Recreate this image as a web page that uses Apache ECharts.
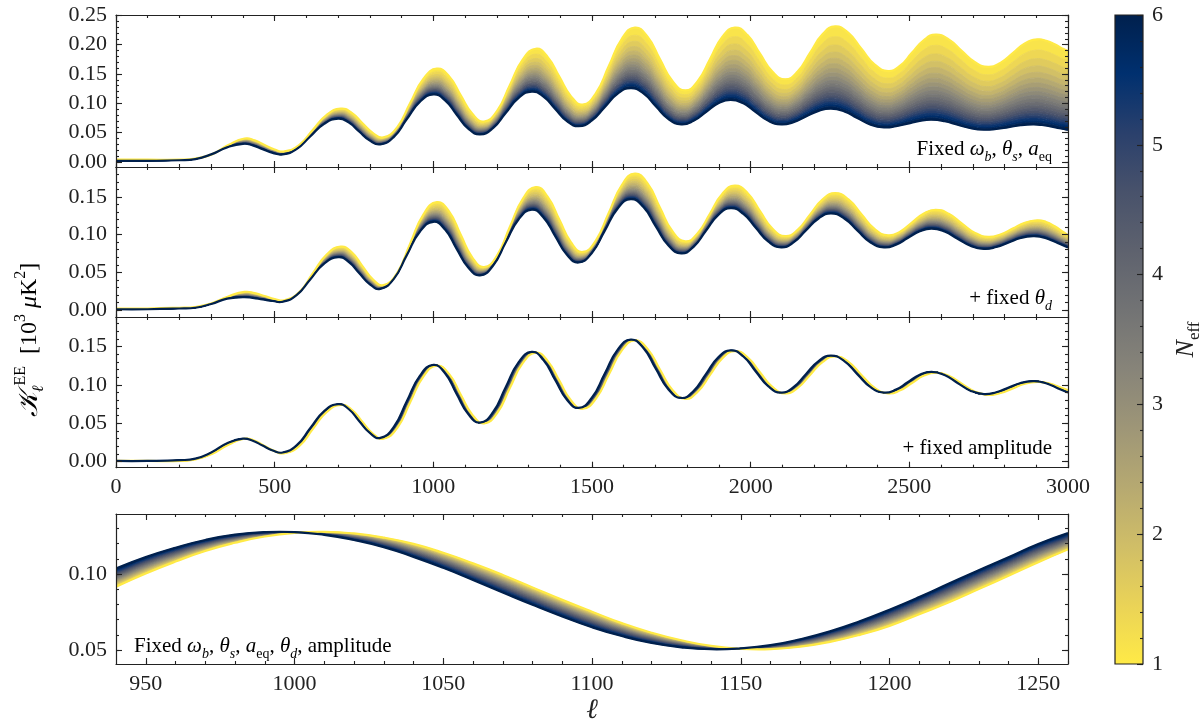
<!DOCTYPE html>
<html>
<head>
<meta charset="utf-8">
<title>EE spectra vs N_eff</title>
<script src="https://cdn.jsdelivr.net/npm/echarts@6/dist/echarts.min.js"></script>
<style>
  html, body { margin: 0; padding: 0; background: #fff; }
  #chart { width: 1203px; height: 726px; }
</style>
</head>
<body>
<div id="chart"></div>
<script>
// multipoles where the Neff = 6 curves were read (peaks, troughs and the quarter points between them)
const ell = [0, 100, 200, 250, 300, 350, 400,
  431, 462, 494, 525, 569, 612, 656, 700, 733, 766, 800, 833, 875, 916, 958, 1000,
  1037, 1073, 1110, 1147, 1188, 1228, 1269, 1310, 1347, 1384, 1421, 1458, 1499, 1540, 1581, 1622,
  1662, 1701, 1741, 1781, 1820, 1859, 1898, 1937, 1977, 2016, 2056, 2096, 2135, 2174, 2214, 2253,
  2295, 2336, 2378, 2420, 2458, 2495, 2533, 2570, 2611, 2652, 2694, 2735, 2774, 2813, 2851, 2890,
  2918, 2945, 2973, 3000];
// the same features on the Neff = 1 curves, which sit slightly later in multipole
const ellLate = [0, 100, 200, 250, 302, 354, 405,
  437, 468, 500, 531, 577, 620, 664, 708, 743, 776, 810, 843, 886, 927, 969, 1011,
  1050, 1086, 1123, 1160, 1201, 1241, 1282, 1323, 1360, 1397, 1434, 1471, 1512, 1553, 1594, 1635,
  1675, 1714, 1754, 1794, 1833, 1872, 1911, 1950, 1990, 2029, 2069, 2109, 2148, 2187, 2227, 2266,
  2308, 2349, 2391, 2433, 2471, 2508, 2546, 2583, 2624, 2665, 2707, 2748, 2787, 2826, 2864, 2903,
  2931, 2958, 2986, 3000];

// panel 1: fixed omega_b, theta_s, a_eq
const p1Blue = [0.002, 0.002, 0.003, 0.005, 0.013, 0.025, 0.031,
  0.0284, 0.022, 0.0156, 0.013, 0.0219, 0.0435, 0.0651, 0.074, 0.0676, 0.052, 0.0364, 0.030, 0.0424, 0.0725, 0.1026, 0.115,
  0.1051, 0.081, 0.0569, 0.047, 0.0577, 0.0835, 0.1093, 0.120, 0.1114, 0.0905, 0.0696, 0.061, 0.0705, 0.0935, 0.1165, 0.126,
  0.1169, 0.095, 0.0731, 0.064, 0.0701, 0.085, 0.0999, 0.106, 0.0999, 0.085, 0.0701, 0.064, 0.0679, 0.0775, 0.0871, 0.091,
  0.0863, 0.075, 0.0637, 0.059, 0.0609, 0.0655, 0.0701, 0.072, 0.0695, 0.0635, 0.0575, 0.055, 0.0563, 0.0595, 0.0627, 0.064,
  0.0631, 0.0608, 0.0576, 0.0547];
const p1Yellow = [0.004, 0.004, 0.004, 0.006, 0.013, 0.029, 0.040,
  0.0368, 0.029, 0.0212, 0.018, 0.0287, 0.0545, 0.0803, 0.091, 0.0838, 0.0665, 0.0492, 0.042, 0.0591, 0.1005, 0.1419, 0.159,
  0.1459, 0.114, 0.0821, 0.069, 0.0871, 0.131, 0.1749, 0.193, 0.1791, 0.1455, 0.1119, 0.098, 0.1171, 0.1635, 0.2099, 0.229,
  0.2134, 0.1755, 0.1376, 0.122, 0.1376, 0.1755, 0.2134, 0.229, 0.2162, 0.185, 0.1538, 0.141, 0.1541, 0.186, 0.2179, 0.231,
  0.2199, 0.193, 0.1661, 0.155, 0.1641, 0.186, 0.2079, 0.217, 0.209, 0.1895, 0.170, 0.162, 0.1689, 0.1855, 0.2021, 0.209,
  0.2066, 0.2005, 0.1925, 0.189];

// panel 2: + fixed theta_d
const p2Blue = [0.001, 0.001, 0.002, 0.003, 0.008, 0.015, 0.017,
  0.0161, 0.014, 0.0119, 0.011, 0.0196, 0.0405, 0.0614, 0.070, 0.0639, 0.049, 0.0341, 0.028, 0.041, 0.0725, 0.104, 0.117,
  0.1066, 0.0815, 0.0564, 0.046, 0.0587, 0.0895, 0.1203, 0.133, 0.1228, 0.098, 0.0732, 0.063, 0.0753, 0.105, 0.1347, 0.147,
  0.1365, 0.111, 0.0855, 0.075, 0.0838, 0.105, 0.1262, 0.135, 0.1274, 0.109, 0.0906, 0.083, 0.0896, 0.1055, 0.1214, 0.128,
  0.1214, 0.1055, 0.0896, 0.083, 0.0867, 0.0955, 0.1044, 0.108, 0.1041, 0.0945, 0.0849, 0.081, 0.0835, 0.0895, 0.0955, 0.098,
  0.0966, 0.0929, 0.0878, 0.083];
const p2Yellow = [0.002, 0.002, 0.003, 0.004, 0.009, 0.018, 0.024,
  0.0224, 0.0185, 0.0146, 0.013, 0.0234, 0.0485, 0.0736, 0.084, 0.0766, 0.0585, 0.0404, 0.033, 0.0491, 0.088, 0.1269, 0.143,
  0.1304, 0.100, 0.0696, 0.057, 0.0725, 0.110, 0.1475, 0.163, 0.1504, 0.120, 0.0896, 0.077, 0.0922, 0.129, 0.1658, 0.181,
  0.1679, 0.136, 0.1041, 0.091, 0.1018, 0.128, 0.1542, 0.165, 0.1552, 0.1315, 0.1078, 0.098, 0.1063, 0.1265, 0.1467, 0.155,
  0.1468, 0.127, 0.1072, 0.099, 0.104, 0.116, 0.128, 0.133, 0.1277, 0.115, 0.1023, 0.097, 0.1002, 0.108, 0.1158, 0.119,
  0.1168, 0.111, 0.1031, 0.099];

// panel 3: + fixed amplitude
const p3Blue = [0.001, 0.001, 0.002, 0.004, 0.012, 0.024, 0.030,
  0.0274, 0.021, 0.0146, 0.012, 0.0212, 0.0435, 0.0658, 0.075, 0.0686, 0.053, 0.0374, 0.031, 0.0449, 0.0785, 0.1121, 0.126,
  0.115, 0.0885, 0.062, 0.051, 0.0644, 0.097, 0.1296, 0.143, 0.1323, 0.1065, 0.0807, 0.070, 0.083, 0.1145, 0.146, 0.159,
  0.1479, 0.121, 0.0941, 0.083, 0.0921, 0.114, 0.1359, 0.145, 0.137, 0.1175, 0.098, 0.090, 0.097, 0.114, 0.131, 0.138,
  0.131, 0.114, 0.097, 0.090, 0.0939, 0.1035, 0.1131, 0.117, 0.1128, 0.1025, 0.0922, 0.088, 0.0905, 0.0965, 0.1025, 0.105,
  0.1036, 0.0999, 0.0948, 0.090];
const p3Yellow = [0.001, 0.001, 0.001, 0.003, 0.010, 0.022, 0.030,
  0.0272, 0.0205, 0.0138, 0.011, 0.0202, 0.0425, 0.0648, 0.074, 0.0676, 0.052, 0.0364, 0.030, 0.0439, 0.0775, 0.1111, 0.125,
  0.114, 0.0875, 0.061, 0.050, 0.0634, 0.096, 0.1286, 0.142, 0.1313, 0.1055, 0.0797, 0.069, 0.082, 0.1135, 0.145, 0.158,
  0.1469, 0.120, 0.0931, 0.082, 0.0911, 0.113, 0.1349, 0.144, 0.136, 0.1165, 0.097, 0.089, 0.096, 0.113, 0.130, 0.137,
  0.130, 0.113, 0.096, 0.089, 0.0929, 0.1025, 0.1121, 0.116, 0.1118, 0.1015, 0.0912, 0.087, 0.0895, 0.0955, 0.1015, 0.104,
  0.1028, 0.0996, 0.0952, 0.093];

// panel 4: zoom on the second peak, everything fixed
const zoomEll = [940, 950, 960, 970, 980, 990, 1000, 1010, 1020, 1030, 1040, 1050, 1060, 1070, 1080, 1090, 1100, 1110, 1120,
  1130, 1140, 1150, 1160, 1170, 1180, 1190, 1200, 1210, 1220, 1230, 1240, 1250, 1260];
const p4Blue = [0.1036, 0.1111, 0.1173, 0.1224, 0.1259, 0.1276, 0.1276, 0.1258, 0.1224, 0.1177, 0.1113, 0.1041, 0.0961, 0.0879,
  0.0798, 0.0721, 0.0650, 0.0592, 0.0547, 0.0518, 0.0505, 0.0511, 0.0532, 0.0571, 0.0623, 0.0689, 0.0765, 0.0848, 0.0937, 0.1025,
  0.1110, 0.1197, 0.1269];
const p4Yellow = [0.0917, 0.1004, 0.1082, 0.1152, 0.1206, 0.1247, 0.1271, 0.1278, 0.1267, 0.1240, 0.1198, 0.1140, 0.1070, 0.0994,
  0.0912, 0.0830, 0.0752, 0.0677, 0.0614, 0.0564, 0.0527, 0.0508, 0.0506, 0.0522, 0.0554, 0.0600, 0.0659, 0.0736, 0.0814, 0.0901,
  0.0989, 0.1078, 0.1162];

// Neff of each drawn curve, and where it sits between the Neff=6 edge (0) and the Neff=1 edge (1)
const neffSteps = [1, 1.25, 1.5, 1.75, 2, 2.25, 2.5, 2.75, 3, 3.25, 3.5, 3.75, 4, 4.25, 4.5, 4.75, 5, 5.25, 5.5, 5.75, 6];
const ampSpread = [1, 0.875, 0.774, 0.688, 0.613, 0.547, 0.489, 0.435, 0.387, 0.342, 0.301, 0.262, 0.226, 0.192, 0.161, 0.130,
  0.102, 0.075, 0.049, 0.024, 0];
const phaseSpread = [1, 0.95, 0.9, 0.85, 0.8, 0.75, 0.7, 0.65, 0.6, 0.55, 0.5, 0.45, 0.4, 0.35, 0.3, 0.25, 0.2, 0.15, 0.1, 0.05, 0];

// tick labels
const ellTicks = [0, 500, 1000, 1500, 2000, 2500, 3000];
const zoomTicks = [950, 1000, 1050, 1100, 1150, 1200, 1250];
const kTicksTop = [0, 0.05, 0.10, 0.15, 0.20, 0.25];
const kTicksMid = [0, 0.05, 0.10, 0.15];
const kTicksZoom = [0.05, 0.10];
const neffTicks = [1, 2, 3, 4, 5, 6];

// cividis, from Neff = 6 (dark) to Neff = 1 (yellow)
const cividis = ['#00204d', '#00306f', '#2a406c', '#48526b', '#5e626e', '#727374', '#878479', '#9e9677', '#b6a971', '#d0be67',
  '#ead357', '#ffea46'];

const FONT = '"Liberation Serif", "DejaVu Serif", serif';
const INK = '#222';

function range(a, b, step) {
  const out = [];
  for (let v = a; v <= b + step * 1e-6; v += step) out.push(+v.toFixed(6));
  return out;
}

function hexRgb(h) {
  return [1, 3, 5].map(i => parseInt(h.slice(i, i + 2), 16));
}

function neffColor(n) {
  const t = (6 - n) / 5 * (cividis.length - 1);
  const i = Math.min(Math.floor(t), cividis.length - 2);
  const f = t - i;
  const a = hexRgb(cividis[i]), b = hexRgb(cividis[i + 1]);
  const c = a.map((v, k) => Math.round(v + (b[k] - v) * f));
  return `rgb(${c[0]},${c[1]},${c[2]})`;
}

const panels = [
  { rect: { left: 116, top: 15, width: 952, height: 152 }, xBlue: ell, xYellow: ellLate,
    xMin: 0, xMax: 3000, xTicks: ellTicks, xMinor: range(0, 3000, 100),
    yMin: -0.0085, yMax: 0.2505, yTicks: kTicksTop, yMinor: range(0, 0.25, 0.01),
    blue: p1Blue, yellow: p1Yellow, spread: ampSpread, xLabels: false },
  { rect: { left: 116, top: 167, width: 952, height: 150 }, xBlue: ell, xYellow: ellLate,
    xMin: 0, xMax: 3000, xTicks: ellTicks, xMinor: range(0, 3000, 100),
    yMin: -0.0093, yMax: 0.1897, yTicks: kTicksMid, yMinor: range(0, 0.18, 0.01),
    blue: p2Blue, yellow: p2Yellow, spread: ampSpread, xLabels: false },
  { rect: { left: 116, top: 317, width: 952, height: 150.7 }, xBlue: ell, xYellow: ellLate,
    xMin: 0, xMax: 3000, xTicks: ellTicks, xMinor: range(0, 3000, 100),
    yMin: -0.0078, yMax: 0.1884, yTicks: kTicksMid, yMinor: range(0, 0.18, 0.01),
    blue: p3Blue, yellow: p3Yellow, spread: phaseSpread, xLabels: true },
  { rect: { left: 116, top: 514, width: 952, height: 150 }, xBlue: zoomEll, xYellow: zoomEll,
    xMin: 940, xMax: 1260, xTicks: zoomTicks, xMinor: range(950, 1260, 10),
    yMin: 0.0408, yMax: 0.1395, yTicks: kTicksZoom, yMinor: range(0.05, 0.13, 0.01),
    blue: p4Blue, yellow: p4Yellow, spread: phaseSpread, xLabels: true }
];

const grids = [], xAxes = [], yAxes = [], series = [];

function axisDef(gridIndex, position, min, max, ticks, len, labels, fmt, line) {
  return {
    type: 'value', gridIndex, position, min, max, z: 5,
    axisLine: { show: line, onZero: false, lineStyle: { color: INK, width: 1.2 } },
    axisTick: { show: true, inside: true, length: len, customValues: ticks, lineStyle: { color: INK, width: 1.1 } },
    minorTick: { show: false },
    splitLine: { show: false },
    axisLabel: labels
      ? { show: true, customValues: labels, formatter: fmt, margin: 9, color: INK, fontFamily: FONT, fontSize: 22 }
      : { show: false }
  };
}

const fmtK = v => v.toFixed(2);
const fmtL = v => String(Math.round(v));

panels.forEach(p => {
  const gMain = grids.push(Object.assign({ outerBoundsMode: 'none' }, p.rect)) - 1;
  const gMinor = grids.push(Object.assign({ outerBoundsMode: 'none' }, p.rect)) - 1;

  const xi = xAxes.length;
  xAxes.push(axisDef(gMain, 'bottom', p.xMin, p.xMax, p.xTicks, 6, p.xLabels ? p.xTicks : null, fmtL, true));
  xAxes.push(axisDef(gMain, 'top', p.xMin, p.xMax, p.xTicks, 6, null, null, true));
  xAxes.push(axisDef(gMinor, 'bottom', p.xMin, p.xMax, p.xMinor, 3, null, null, false));
  xAxes.push(axisDef(gMinor, 'top', p.xMin, p.xMax, p.xMinor, 3, null, null, false));

  const yi = yAxes.length;
  yAxes.push(axisDef(gMain, 'left', p.yMin, p.yMax, p.yTicks, 6, p.yTicks, fmtK, true));
  yAxes.push(axisDef(gMain, 'right', p.yMin, p.yMax, p.yTicks, 6, null, null, true));
  yAxes.push(axisDef(gMinor, 'left', p.yMin, p.yMax, p.yMinor, 3, null, null, false));
  yAxes.push(axisDef(gMinor, 'right', p.yMin, p.yMax, p.yMinor, 3, null, null, false));

  // one curve per Neff step, placed between the two read edge curves
  const curves = p.spread.map(w => p.xBlue.map((lb, i) => [
    lb + w * (p.xYellow[i] - lb),
    p.blue[i] + w * (p.yellow[i] - p.blue[i])
  ]));
  const last = curves.length - 1;

  series.push({
    type: 'custom', xAxisIndex: xi, yAxisIndex: yi, clip: true, silent: true,
    data: [[p.xMin, p.yMin]],
    renderItem: (params, api) => {
      const px = curves.map(c => c.map(pt => api.coord(pt)));
      const children = [];
      for (let k = 1; k <= last; k++) {
        const col = neffColor((neffSteps[k] + neffSteps[k - 1]) / 2);
        children.push({
          type: 'polygon',
          shape: { points: px[k].concat(px[k - 1].slice().reverse()), smooth: 0.5 },
          style: { fill: col, stroke: col, lineWidth: 0.8 }
        });
      }
      [0, last].forEach(k => children.push({
        type: 'polyline',
        shape: { points: px[k], smooth: 0.5 },
        style: { stroke: neffColor(neffSteps[k]), lineWidth: 2.2, fill: 'none' }
      }));
      return { type: 'group', children };
    }
  });
});

// colour bar
const cbRect = { left: 1115, top: 15, width: 28, height: 649 };
const gCb = grids.push(Object.assign({ outerBoundsMode: 'none' }, cbRect)) - 1;
const gCbMinor = grids.push(Object.assign({ outerBoundsMode: 'none' }, cbRect)) - 1;
const cbX = xAxes.length;
xAxes.push({ type: 'value', gridIndex: gCb, min: 0, max: 1, show: false });
xAxes.push({ type: 'value', gridIndex: gCbMinor, min: 0, max: 1, show: false });
const cbY = yAxes.length;
const cbAxis = axisDef(gCb, 'right', 1, 6, neffTicks, 6, neffTicks, fmtL, false);
cbAxis.name = '{it|N}{sub|eff}';
cbAxis.nameLocation = 'middle';
cbAxis.nameRotate = 90;
cbAxis.nameGap = 26;
cbAxis.nameTextStyle = {
  rich: {
    it: { fontFamily: FONT, fontSize: 26, fontStyle: 'italic', color: INK, lineHeight: 34 },
    sub: { fontFamily: FONT, fontSize: 17, color: INK, lineHeight: 16, verticalAlign: 'bottom' }
  }
};
yAxes.push(cbAxis);
yAxes.push(axisDef(gCbMinor, 'right', 1, 6, range(1, 6, 0.2), 3, null, null, false));

series.push({
  type: 'custom', xAxisIndex: cbX, yAxisIndex: cbY, silent: true,
  data: [[0, 1, 6]],
  renderItem: (params, api) => {
    const p0 = api.coord([0, api.value(2)]);
    const p1 = api.coord([1, api.value(1)]);
    return {
      type: 'rect',
      shape: { x: p0[0], y: p0[1], width: p1[0] - p0[0], height: p1[1] - p0[1] },
      style: {
        fill: new echarts.graphic.LinearGradient(0, 0, 0, 1,
          cividis.map((c, i) => ({ offset: i / (cividis.length - 1), color: c }))),
        stroke: INK, lineWidth: 1.2
      }
    };
  }
});

const rich = {
  rm: { fontFamily: FONT, fontSize: 21, color: INK, lineHeight: 30 },
  it: { fontFamily: FONT, fontSize: 21, fontStyle: 'italic', color: INK, lineHeight: 30 },
  sub: { fontFamily: FONT, fontSize: 14, color: INK, lineHeight: 14, verticalAlign: 'bottom' },
  subi: { fontFamily: FONT, fontSize: 14, fontStyle: 'italic', color: INK, lineHeight: 14, verticalAlign: 'bottom' }
};
// slightly larger set for the shared y label
const richBig = {
  rm: { fontFamily: FONT, fontSize: 24, color: INK, lineHeight: 34 },
  it: { fontFamily: FONT, fontSize: 24, fontStyle: 'italic', color: INK, lineHeight: 34 },
  cal: { fontFamily: FONT, fontSize: 27, fontStyle: 'italic', color: INK, lineHeight: 34 },
  subi: { fontFamily: FONT, fontSize: 16, fontStyle: 'italic', color: INK, lineHeight: 16, verticalAlign: 'bottom' },
  sup: { fontFamily: FONT, fontSize: 16, color: INK, lineHeight: 16, verticalAlign: 'top' }
};

function note(text, x, y, align) {
  return { type: 'text', x, y, silent: true, z: 10,
    style: { text, rich, align, verticalAlign: 'middle' } };
}

const option = {
  animation: false,
  backgroundColor: '#fff',
  grid: grids,
  xAxis: xAxes,
  yAxis: yAxes,
  series,
  graphic: [
    note('{rm|Fixed }{it|ω}{subi|b}{rm|, }{it|θ}{subi|s}{rm|, }{it|a}{sub|eq}', 1052, 149, 'right'),
    note('{rm|+ fixed }{it|θ}{subi|d}', 1052, 298, 'right'),
    note('{rm|+ fixed amplitude}', 1052, 448, 'right'),
    note('{rm|Fixed }{it|ω}{subi|b}{rm|, }{it|θ}{subi|s}{rm|, }{it|a}{sub|eq}{rm|, }{it|θ}{subi|d}{rm|, amplitude}', 134, 646, 'left'),
    { type: 'text', x: 30, y: 340, rotation: Math.PI / 2, silent: true,
      style: { text: '{cal|𝒦}{subi|ℓ}{sup|EE}{rm|  [10}{sup|3}{rm| }{it|μ}{rm|K}{sup|2}{rm|]}',
        rich: richBig, align: 'center', verticalAlign: 'middle' } },
    { type: 'text', x: 592, y: 711, silent: true,
      style: { text: 'ℓ', fontFamily: FONT, fontSize: 28, fontStyle: 'italic', fill: INK, align: 'center', verticalAlign: 'middle' } }
  ]
};

const chart = echarts.init(document.getElementById('chart'));
chart.setOption(option);
window.addEventListener('resize', () => chart.resize());
</script>
</body>
</html>
